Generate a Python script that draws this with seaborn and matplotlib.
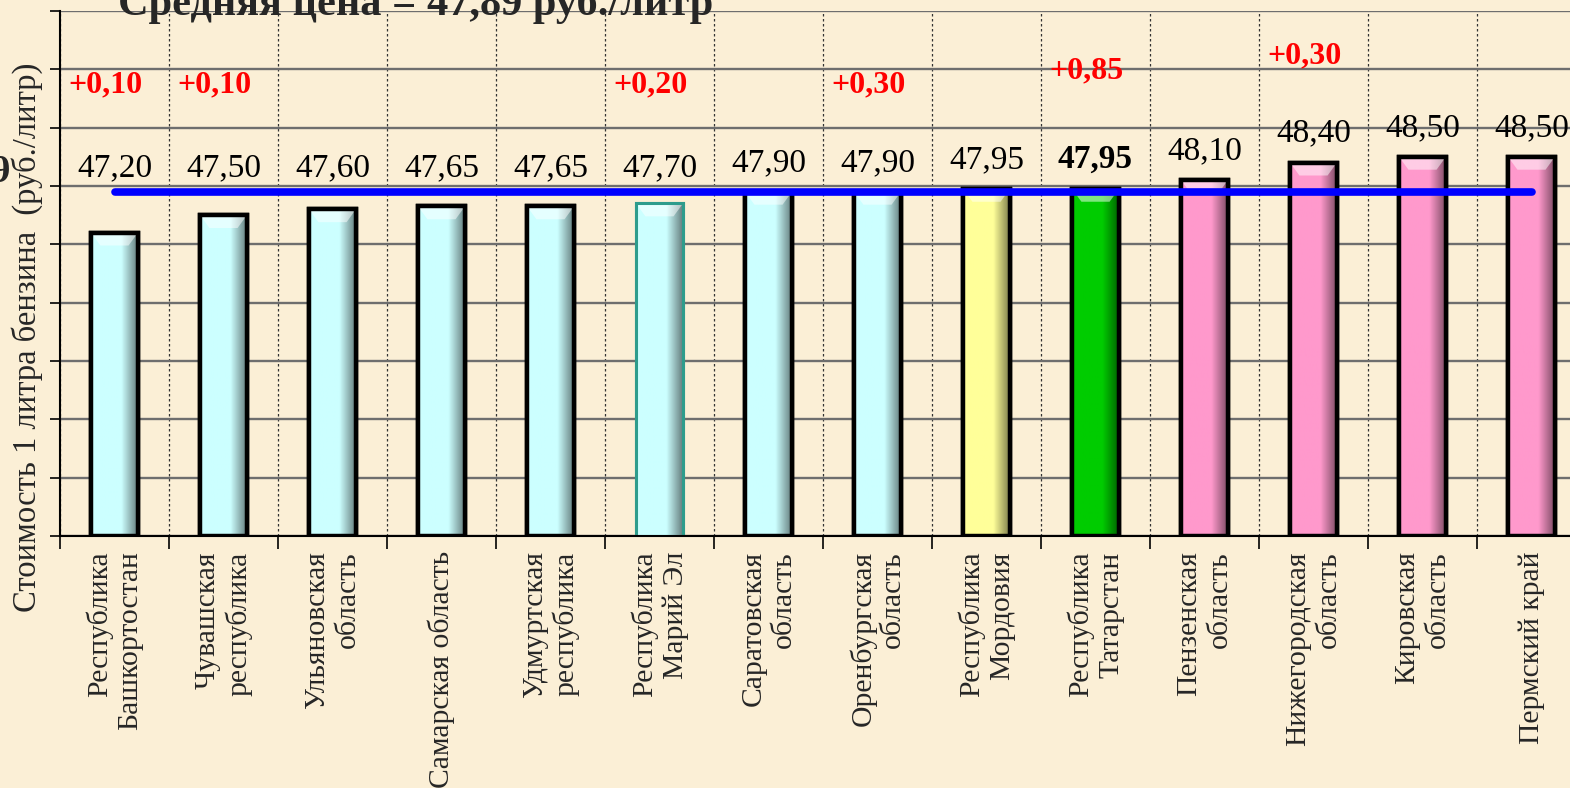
import matplotlib
matplotlib.use("Agg")
import matplotlib.pyplot as plt
import matplotlib.colors as mcolors
import numpy as np
import pandas as pd
import seaborn as sns

# data
regions = ["Республика\nБашкортостан", "Чувашская\nреспублика", "Ульяновская\nобласть",
           "Самарская область", "Удмуртская\nреспублика", "Республика\nМарий Эл",
           "Саратовская\nобласть", "Оренбургская\nобласть", "Республика\nМордовия",
           "Республика\nТатарстан", "Пензенская\nобласть", "Нижегородская\nобласть",
           "Кировская\nобласть", "Пермский край"]
prices = [47.20, 47.50, 47.60, 47.65, 47.65, 47.70, 47.90, 47.90, 47.95, 47.95,
          48.10, 48.40, 48.50, 48.50]
changes = ["+0,10", "+0,10", "", "", "", "+0,20", "", "+0,30", "", "+0,85",
           "", "+0,30", "", ""]
avg_price = 47.89
title = "Средняя цена = 47,89 руб./литр"
ylabel = "Стоимость 1 литра бензина  (руб./литр)"

cyan, yellow, green, pink = "#CCFFFF", "#FFFF99", "#00CC00", "#FF99CC"
bar_colors = [cyan] * 8 + [yellow, green] + [pink] * 4
bg = "#FBEFD6"

df = pd.DataFrame({"region": regions, "price": prices})

sns.set_theme(style="white")
plt.rcParams["font.family"] = ["Liberation Serif", "DejaVu Serif"]

fig = plt.figure(figsize=(15.7, 7.88), dpi=100, facecolor=bg)
ax = fig.add_axes([60 / 1570, 1 - 536 / 788, 1526 / 1570, 525 / 788])
ax.set_facecolor(bg)

sns.barplot(data=df, x="region", y="price", hue="region", palette=bar_colors,
            legend=False, width=0.43, edgecolor="black", linewidth=3.2,
            saturation=1, ax=ax)

# bevel-like shading inside each bar
for i, p in enumerate(ax.patches):
    if i == 5:
        p.set_edgecolor("#2E9C8C")
        p.set_linewidth(2.2)
    x0, w = p.get_x(), p.get_width()
    top = p.get_height()
    base = np.array(mcolors.to_rgb(bar_colors[i]))
    dark = base * 0.5
    t = np.linspace(0, 1, 60)
    shade = np.clip(1 - np.maximum(0, (t - 0.65) / 0.35), 0, 1)
    row = base[None, :] * shade[:, None] + dark[None, :] * (1 - shade[:, None])
    img = ax.imshow(row[None, :, :], extent=[x0, x0 + w, 42, top], aspect="auto",
                    zorder=p.get_zorder() + 0.1, interpolation="bilinear")
    img.set_clip_path(p)
    cap = plt.Polygon([[x0, top], [x0 + w, top], [x0 + w * 0.8, top - 0.22],
                       [x0 + w * 0.2, top - 0.22]], closed=True,
                      facecolor="white", alpha=0.5, zorder=p.get_zorder() + 0.2,
                      edgecolor="none")
    ax.add_patch(cap)
    edge = plt.Rectangle((x0, 42), w, top - 42, fill=False,
                         edgecolor=p.get_edgecolor(), linewidth=p.get_linewidth(),
                         zorder=p.get_zorder() + 0.3)
    ax.add_patch(edge)

# average line
ax.plot(range(len(regions)), [avg_price] * len(regions), color="#0000FF",
        lw=5.5, solid_capstyle="round", zorder=5)

# value labels
for i, v in enumerate(prices):
    y = max(v + 0.5, 48.3)
    ax.text(i, y, f"{v:.2f}".replace(".", ","), ha="center", va="center",
            fontsize=24, color="black",
            fontweight="bold" if i == 9 else "normal", zorder=6)

# change labels
lift = {9: 0.24, 11: 0.5}
for i, c in enumerate(changes):
    if c:
        ax.text(i - 0.08, 49.73 + lift.get(i, 0), c, ha="center", va="center",
                fontsize=23, color="#FF0000", fontweight="bold", zorder=6)

ax.set_ylim(42, 51)
ax.set_xlim(-0.5, len(regions) - 0.5)
ax.set_yticks(np.arange(42, 52, 1))
ax.set_yticklabels([])
ax.set_xticks(np.arange(-0.5, len(regions), 1), minor=True)
ax.set_xticks(range(len(regions)))
ax.set_xticklabels(regions, rotation=90, fontsize=21.3, multialignment="right")
ax.set_xlabel("")
ax.set_ylabel("")
ax.grid(axis="y", color="#6E6E6E", lw=1.7, zorder=0)
ax.grid(axis="x", which="minor", color="#333333", lw=0.9, ls=(0, (2, 2)), zorder=0)
ax.set_axisbelow(True)
ax.tick_params(axis="x", which="major", length=0, pad=11)
ax.tick_params(axis="x", which="minor", bottom=True, length=9, width=1.2, color="black")
ax.tick_params(axis="y", left=True, length=7, width=1.2, color="black")
for s in ["top", "right"]:
    ax.spines[s].set_visible(False)
for s in ["left", "bottom"]:
    ax.spines[s].set_color("black")
    ax.spines[s].set_linewidth(1.5)

fig.text(27 / 1570, 1 - 337 / 788, ylabel, rotation=90, ha="center", va="center",
         fontsize=23.5)
fig.text(118 / 1570, 1 - 15 / 788, title, ha="left", va="baseline",
         fontsize=30.5, fontweight="bold")
fig.text(-9 / 1570, 1 - 182 / 788, "9", ha="left", va="baseline",
         fontsize=28, fontweight="bold")

fig.savefig("out.png", dpi=100, facecolor=bg)
